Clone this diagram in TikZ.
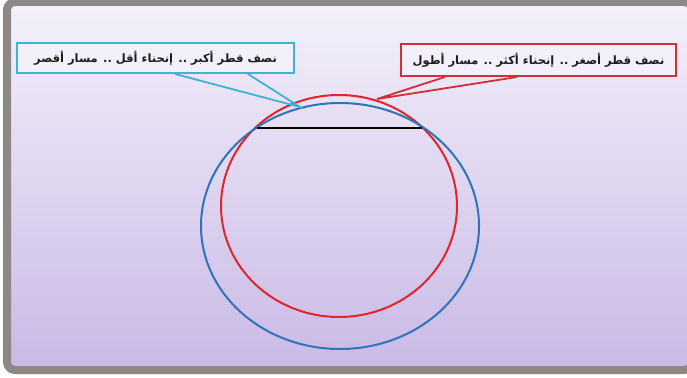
\documentclass[tikz,border=0pt]{standalone}
\usepackage{fontspec}
\newfontfamily\arabicfont[Script=Arabic]{DejaVu Sans}
\TeXXeTstate=1
\definecolor{framegray}{HTML}{8C8886}
\definecolor{bgtop}{HTML}{F4F1FA}
\definecolor{bgbot}{HTML}{C9B9E6}
\definecolor{boxblue}{HTML}{3BB4D6}
\definecolor{circblue}{HTML}{2F73B8}
\definecolor{circred}{HTML}{E2242C}
\definecolor{boxred}{HTML}{D22F3B}
\definecolor{boxfill}{HTML}{F3F0FA}
\definecolor{txt}{HTML}{1E1E1E}
\begin{document}
\begin{tikzpicture}[x=1pt,y=-1pt,
  callout/.style={draw, line width=2pt, fill=boxfill, inner sep=0pt,
    font=\arabicfont\bfseries\fontsize{11.5}{13}\selectfont, text=txt},
  pointer/.style={line width=1.8pt},
  orbit/.style={line width=2pt}]
\useasboundingbox (0,0) rectangle (687,377);
\clip (0,0) rectangle (687,377);
\fill[white] (0,0) rectangle (687,377);
\shade[top color=bgtop, bottom color=bgbot, rounded corners=8pt] (7,2) rectangle (692,370);
\draw[framegray, line width=8pt, rounded corners=8pt] (7,2) rectangle (692,370);
% orbits
\draw[orbit, circred] (339,206) ellipse [x radius=118, y radius=111];
\draw[orbit, circblue] (340,226) ellipse [x radius=139, y radius=123];
\coordinate (chl) at (257,128);
\coordinate (chr) at (422,128);
\draw[line width=1.8pt, black] (chl) -- (chr);
% callouts
\node[callout, draw=boxblue, minimum width=277pt, minimum height=30pt] (bbox) at (155.5,58)
  {\beginR نصف قطر أكبر .. إنحناء أقل .. مسار أقصر\endR};
\node[callout, draw=boxred, minimum width=275pt, minimum height=32pt] (rbox) at (538.5,60)
  {\beginR نصف قطر أصغر .. إنحناء أكثر .. مسار أطول\endR};
\coordinate (btip) at (300,107);
\coordinate (rtip) at (377,99);
\draw[pointer, boxblue] (bbox.south -| 175,0) -- (btip) -- (bbox.south -| 248,0);
\draw[pointer, boxred] (rbox.south -| 445,0) -- (rtip) -- (rbox.south -| 517,0);
\end{tikzpicture}
\end{document}
